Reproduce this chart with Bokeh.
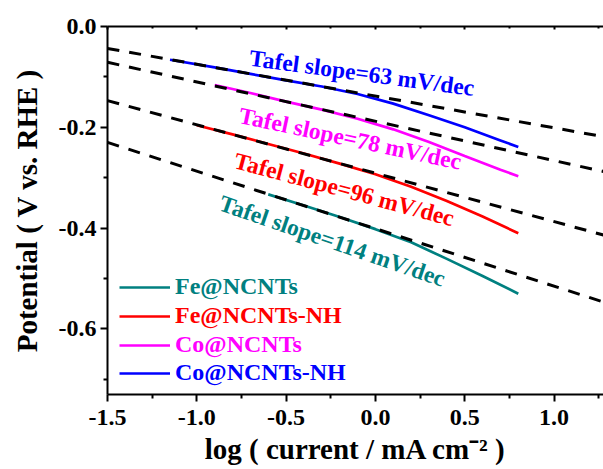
import numpy as np
from bokeh.plotting import figure
from bokeh.models import (Range1d, FixedTicker, PrintfTickFormatter, LinearAxis,
                          Legend, LegendItem, CustomLabelingPolicy)
from bokeh.embed import file_html
from bokeh.resources import INLINE
from bokeh.core.properties import value

# ---------------- data ----------------
series_names = ["Fe@NCNTs", "Fe@NCNTs-NH", "Co@NCNTs", "Co@NCNTs-NH"]
series_colors = ["#008080", "#ff0000", "#ff00ff", "#0000ff"]

fe_x = [-0.6, -0.4, -0.2, 0.0, 0.2, 0.4, 0.6, 0.8]
fe_y = [-0.333, -0.355, -0.378, -0.402, -0.428, -0.461, -0.495, -0.530]

fenh_x = [-1.0, -0.8, -0.6, -0.4, -0.2, 0.0, 0.2, 0.4, 0.6, 0.8]
fenh_y = [-0.196, -0.214, -0.233, -0.252, -0.272, -0.293, -0.318, -0.346, -0.377, -0.410]

co_x = [-0.9, -0.7, -0.5, -0.3, -0.1, 0.1, 0.3, 0.5, 0.7, 0.8]
co_y = [-0.116, -0.132, -0.149, -0.165, -0.183, -0.204, -0.229, -0.257, -0.284, -0.297]

conh_x = [-1.15, -0.9, -0.7, -0.5, -0.3, -0.1, 0.1, 0.3, 0.5, 0.7, 0.8]
conh_y = [-0.066, -0.081, -0.094, -0.107, -0.119, -0.134, -0.153, -0.176, -0.200, -0.226, -0.239]

# Tafel fits: E = a + b*log(j)
fit_slope_mV = [114, 96, 78, 63]
fit_intercept = [-0.401, -0.291, -0.188, -0.138]
fit_x_span = [-1.5, 1.3]

tafel_texts = ["Tafel slope=114 mV/dec", "Tafel slope=96 mV/dec",
               "Tafel slope=78 mV/dec", "Tafel slope=63 mV/dec"]

x_ticks = [-1.5, -1.0, -0.5, 0.0, 0.5, 1.0]
x_minor = [-1.25, -0.75, -0.25, 0.25, 0.75, 1.25]
y_ticks = [-0.6, -0.4, -0.2, 0.0]
y_minor = [-0.7, -0.5, -0.3, -0.1]

# ---------------- layout / style ----------------
label_anchor_x = [-0.868, -0.787, -0.761, -0.704]
label_anchor_y = [-0.3486, -0.2647, -0.1752, -0.0618]
label_angle_deg = [-19.0, -15.0, -12.0, -7.7]

FONT = "Liberation Serif"

p = figure(width=603, height=469, output_backend="svg", toolbar_location=None,
           x_range=Range1d(-1.5, 1.277), y_range=Range1d(-0.73, 0.0),
           min_border_left=107, min_border_right=0, min_border_top=26,
           min_border_bottom=75)
p.outline_line_color = None
p.xgrid.visible = False
p.ygrid.visible = False
p.background_fill_color = "white"
p.border_fill_color = "white"

xs_all = [fe_x, fenh_x, co_x, conh_x]
ys_all = [fe_y, fenh_y, co_y, conh_y]
renderers = []
for xs, ys, c in zip(xs_all, ys_all, series_colors):
    r = p.line(xs, ys, line_color=c, line_width=2.7)
    renderers.append(r)

for b, a in zip(fit_slope_mV, fit_intercept):
    fx = np.array(fit_x_span)
    fy = a - b / 1000.0 * fx
    p.line(fx, fy, line_color="black", line_width=3, line_dash="12 10")

for t, lx, ly, ang, c in zip(tafel_texts, label_anchor_x, label_anchor_y,
                             label_angle_deg, series_colors):
    p.text(x=[lx], y=[ly], text=[t], angle=ang, angle_units="deg",
           text_color=c, text_font=value(FONT), text_font_style="bold",
           text_font_size="23.5px", text_align="left", text_baseline="alphabetic")

# axes
for ax in p.xaxis:
    ax.ticker = FixedTicker(ticks=x_ticks, minor_ticks=x_minor)
    ax.formatter = PrintfTickFormatter(format="%.1f")
    ax.axis_label = "log ( current / mA cm\u207b\u00b2 )"
    ax.major_label_standoff = 8
    ax.axis_label_standoff = 5
for ax in p.yaxis:
    ax.ticker = FixedTicker(ticks=y_ticks, minor_ticks=y_minor)
    ax.formatter = PrintfTickFormatter(format="%.1f")
    ax.axis_label = "Potential ( V vs. RHE )"
    ax.major_label_standoff = 4
    ax.axis_label_standoff = 13

for ax in list(p.xaxis) + list(p.yaxis):
    ax.axis_line_width = 2
    ax.major_tick_line_width = 2
    ax.minor_tick_line_width = 2
    ax.major_tick_out = 7
    ax.major_tick_in = 0
    ax.minor_tick_out = 4
    ax.minor_tick_in = 0
    ax.major_label_text_font = FONT
    ax.major_label_text_font_style = "bold"
    ax.major_label_text_font_size = "24px"
    ax.major_label_text_color = "black"
    ax.axis_label_text_font = FONT
    ax.axis_label_text_font_style = "bold"
    ax.axis_label_text_font_size = "29px"
    ax.axis_label_text_color = "black"

top = LinearAxis(ticker=FixedTicker(ticks=x_ticks, minor_ticks=x_minor))
top.axis_line_width = 2
top.major_tick_line_width = 2
top.minor_tick_line_width = 2
top.major_tick_in = 3
top.major_tick_out = 0
top.minor_tick_in = 2
top.minor_tick_out = 0
top.major_label_policy = CustomLabelingPolicy(
    code="for (const i of indices) { if (i < 0) { yield i } }")
top.major_label_standoff = 0
p.add_layout(top, "above")

# legend: one entry per colour
legend_bottoms = [94, 65, 36, 8]
for name, c, r, yb in zip(series_names, series_colors, renderers, legend_bottoms):
    leg = Legend(items=[LegendItem(label=name, renderers=[r])], location=(12, yb))
    leg.label_text_color = c
    leg.label_text_font = FONT
    leg.label_text_font_style = "bold"
    leg.label_text_font_size = "24px"
    leg.glyph_width = 51
    leg.glyph_height = 20
    leg.label_standoff = 5
    leg.padding = 0
    leg.margin = 0
    leg.spacing = 0
    leg.border_line_color = None
    leg.background_fill_alpha = 0
    p.add_layout(leg)

open("out.html", "w").write(file_html(p, INLINE))
